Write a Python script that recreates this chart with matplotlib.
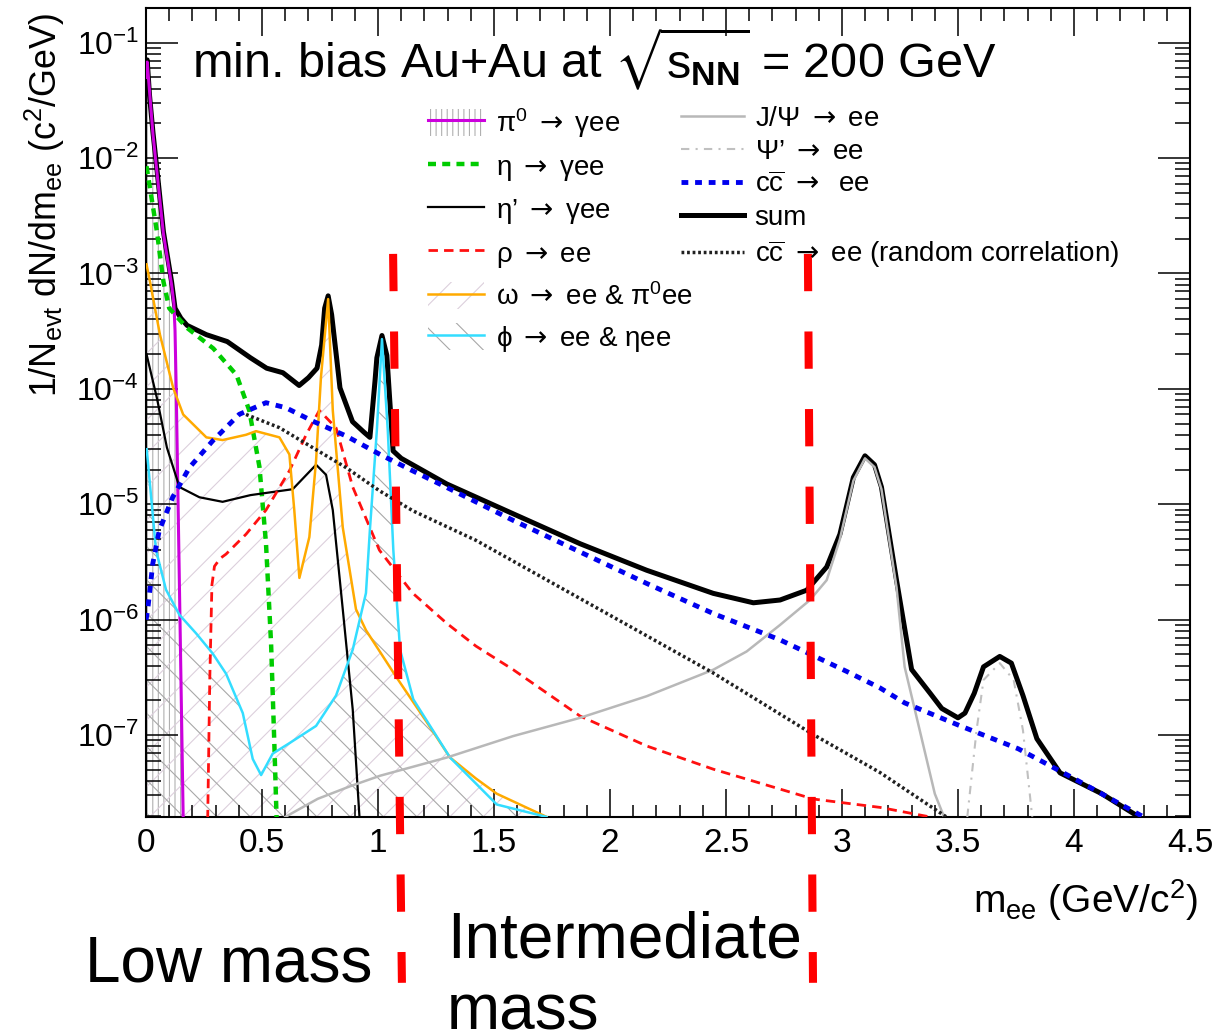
import matplotlib
matplotlib.use('Agg')
import matplotlib.pyplot as plt
from matplotlib.transforms import blended_transform_factory

plt.rcParams['font.family'] = ['Liberation Sans', 'DejaVu Sans']
plt.rcParams['mathtext.fontset'] = 'custom'
plt.rcParams['mathtext.rm'] = 'Liberation Sans'
plt.rcParams['mathtext.it'] = 'Liberation Sans:italic'
plt.rcParams['mathtext.bf'] = 'Liberation Sans:bold'
plt.rcParams['mathtext.sf'] = 'DejaVu Sans'
plt.rcParams['mathtext.default'] = 'regular'
plt.rcParams['mathtext.fallback'] = 'stixsans'
plt.rcParams['hatch.linewidth'] = 0.8

# ---- data (m_ee in GeV/c^2, yield in c^2/GeV) ----
sum_x = [0.0, 0.005, 0.015, 0.03, 0.05, 0.075, 0.11, 0.125, 0.15, 0.177, 0.26, 0.35, 0.45, 0.52,
         0.59, 0.66, 0.70, 0.737, 0.757, 0.77, 0.785, 0.80, 0.823, 0.836, 0.89, 0.94, 0.965, 0.987,
         0.995, 1.017, 1.038, 1.05, 1.065, 1.10, 1.296, 1.583, 1.871, 2.158, 2.445, 2.618, 2.733,
         2.848, 2.934, 2.991, 3.049, 3.099, 3.14, 3.17, 3.235, 3.30, 3.38, 3.43, 3.50, 3.53, 3.57,
         3.61, 3.68, 3.73, 3.78, 3.84, 3.94, 4.12, 4.28, 4.35]
sum_y = [5.0e-2, 7.1e-2, 3.5e-2, 1.66e-2, 7.0e-3, 2.3e-3, 8.5e-4, 5.0e-4, 4.1e-4, 3.55e-4, 2.95e-4,
         2.57e-4, 1.86e-4, 1.51e-4, 1.38e-4, 1.07e-4, 1.25e-4, 1.51e-4, 2.4e-4, 5.0e-4, 6.4e-4,
         4.4e-4, 1.74e-4, 1.02e-4, 5.2e-5, 4.2e-5, 3.8e-5, 1.17e-4, 1.86e-4, 2.9e-4, 1.95e-4,
         8.3e-5, 2.9e-5, 2.5e-5, 1.50e-5, 8.26e-6, 4.55e-6, 2.68e-6, 1.69e-6, 1.40e-6, 1.48e-6,
         1.80e-6, 2.86e-6, 5.5e-6, 1.71e-5, 2.63e-5, 2.2e-5, 1.41e-5, 2.2e-6, 3.7e-7, 2.3e-7,
         1.7e-7, 1.41e-7, 1.55e-7, 2.3e-7, 3.9e-7, 4.8e-7, 4.2e-7, 2.2e-7, 9.3e-8, 4.7e-8, 3.1e-8,
         1.95e-8, 1.0e-8]

pi0_x = [0.0, 0.005, 0.03, 0.075, 0.11, 0.12, 0.125, 0.13, 0.146, 0.16, 0.162]
pi0_y = [5.0e-2, 6.8e-2, 1.6e-2, 2.2e-3, 8.0e-4, 5.5e-4, 3.2e-4, 1.0e-4, 1.1e-6, 2.0e-8, 1.0e-8]

eta_x = [0.002, 0.047, 0.075, 0.10, 0.175, 0.29, 0.39, 0.445, 0.489, 0.517, 0.539, 0.553, 0.567]
eta_y = [8.5e-3, 2.3e-3, 8.5e-4, 5.0e-4, 3.4e-4, 2.24e-4, 1.32e-4, 6.5e-5, 2.1e-5, 4.6e-6, 6.2e-7,
         8.5e-8, 1.0e-8]

etap_x = [0.002, 0.047, 0.09, 0.144, 0.23, 0.33, 0.45, 0.632, 0.733, 0.776, 0.805, 0.848, 0.891,
          0.92, 0.925]
etap_y = [2.0e-4, 8.3e-5, 3.1e-5, 1.41e-5, 1.15e-5, 1.05e-5, 1.2e-5, 1.35e-5, 2.2e-5, 1.8e-5,
          8.9e-6, 1.23e-6, 1.66e-7, 1.95e-8, 1.0e-8]

rho_x = [0.262, 0.266, 0.275, 0.284, 0.295, 0.32, 0.345, 0.431, 0.517, 0.618, 0.69, 0.747, 0.819,
         0.891, 1.006, 1.149, 1.296, 1.422, 1.583, 1.871, 2.158, 2.445, 2.733, 2.876, 3.164, 3.38]
rho_y = [1.0e-8, 2.0e-8, 3.2e-7, 2.0e-6, 2.9e-6, 3.4e-6, 3.7e-6, 5.5e-6, 8.9e-6, 1.95e-5, 4.0e-5,
         6.5e-5, 4.6e-5, 1.41e-5, 4.0e-6, 1.7e-6, 9.3e-7, 5.9e-7, 3.68e-7, 1.46e-7, 8.04e-8,
         5.06e-8, 3.40e-8, 2.79e-8, 2.36e-8, 1.95e-8]

omega_x = [0.002, 0.017, 0.06, 0.117, 0.16, 0.26, 0.33, 0.431, 0.474, 0.575, 0.618, 0.639, 0.661,
           0.704, 0.733, 0.754, 0.785, 0.805, 0.848, 0.905, 0.948, 1.078, 1.221, 1.31, 1.422, 1.512,
           1.727, 1.75]
omega_y = [1.2e-3, 8.5e-4, 2.95e-4, 1.02e-4, 6.0e-5, 3.8e-5, 3.6e-5, 4.0e-5, 4.3e-5, 3.8e-5, 2.7e-5,
           8.9e-6, 2.3e-6, 5.2e-6, 2.4e-5, 1.26e-4, 6.0e-4, 6.5e-5, 6.3e-6, 1.23e-6, 8.1e-7, 3.2e-7,
           1.2e-7, 6.4e-8, 4.2e-8, 3.1e-8, 1.95e-8, 1.0e-8]

phi_x = [0.003, 0.043, 0.086, 0.144, 0.216, 0.287, 0.345, 0.417, 0.46, 0.496, 0.546, 0.618, 0.733,
         0.819, 0.891, 0.948, 0.965, 0.995, 1.017, 1.042, 1.066, 1.095, 1.152, 1.31, 1.512, 1.727, 1.75]
phi_y = [3.0e-5, 4.0e-6, 1.82e-6, 1.1e-6, 7.6e-7, 5.1e-7, 3.4e-7, 1.55e-7, 6.2e-8, 4.5e-8, 6.9e-8,
         8.5e-8, 1.2e-7, 2.2e-7, 5.5e-7, 1.7e-6, 6.0e-6, 4.4e-5, 2.7e-4, 4.4e-5, 4.0e-6, 5.5e-7,
         2.04e-7, 6.4e-8, 2.5e-8, 1.95e-8, 1.0e-8]

jpsi_x = [0.60, 0.74, 0.88, 1.009, 1.296, 1.583, 1.871, 2.158, 2.445, 2.589, 2.733, 2.862, 2.934,
          2.991, 3.049, 3.099, 3.14, 3.17, 3.235, 3.27, 3.40, 3.44]
jpsi_y = [1.95e-8, 2.8e-8, 3.6e-8, 4.44e-8, 6.38e-8, 9.8e-8, 1.41e-7, 2.17e-7, 3.68e-7, 5.3e-7,
          9.0e-7, 1.48e-6, 2.2e-6, 5.0e-6, 1.6e-5, 2.5e-5, 2.1e-5, 1.35e-5, 1.9e-6, 3.9e-7, 3.1e-8,
          1.95e-8]

psip_x = [3.54, 3.58, 3.61, 3.68, 3.74, 3.78, 3.82]
psip_y = [1.95e-8, 1.1e-7, 3.0e-7, 4.2e-7, 3.0e-7, 1.1e-7, 1.95e-8]

ccbar_x = [0.0, 0.007, 0.029, 0.057, 0.115, 0.187, 0.287, 0.402, 0.517, 0.603, 0.718, 0.862, 1.006,
           1.149, 1.296, 1.583, 1.871, 2.158, 2.445, 2.733, 3.02, 3.164, 3.27, 3.51, 3.76, 4.0, 4.3]
ccbar_y = [1.0e-6, 1.21e-6, 3.05e-6, 5.93e-6, 1.15e-5, 2.08e-5, 3.54e-5, 6.02e-5, 7.59e-5, 6.86e-5,
           5.26e-5, 3.91e-5, 2.72e-5, 1.95e-5, 1.40e-5, 7.24e-6, 3.86e-6, 2.06e-6, 1.13e-6, 6.68e-7,
           3.56e-7, 2.56e-7, 1.9e-7, 1.2e-7, 7.6e-8, 4.2e-8, 1.95e-8]

rand_x = [0.431, 0.575, 0.718, 0.862, 1.006, 1.149, 1.422, 2.445, 2.876, 3.164, 3.45]
rand_y = [6.0e-5, 4.61e-5, 3.1e-5, 2.08e-5, 1.31e-5, 8.8e-6, 4.87e-6, 3.45e-7, 1.01e-7, 4.73e-8,
          1.95e-8]

# mass region boundaries (top, bottom of the drawn line)
low_edge = [1.065, 1.103]
int_edge = [2.853, 2.875]

xticks = [0, 0.5, 1, 1.5, 2, 2.5, 3, 3.5, 4, 4.5]
xtick_labels = ['0', '0.5', '1', '1.5', '2', '2.5', '3', '3.5', '4', '4.5']
ymin, ymax = 1.95e-8, 0.2
floor = 1e-9

# ---- figure ----
fig = plt.figure(figsize=(12.2, 10.34), dpi=100)
ax = fig.add_axes([0.1197, 0.2099, 0.8557, 0.7824])
ax.set_yscale('log')
ax.set_xlim(0, 4.5)
ax.set_ylim(ymin, ymax)

# hatched areas
h_pi0 = ax.fill_between(pi0_x, pi0_y, floor, facecolor='none', edgecolor='#b0b0b0',
                        hatch='|||', linewidth=0, zorder=1)
h_om = ax.fill_between(omega_x, omega_y, floor, facecolor='none', edgecolor='#dccfdc',
                       hatch='/', linewidth=0, zorder=1)
h_phi = ax.fill_between(phi_x, phi_y, floor, facecolor='none', edgecolor='#a8a8a8',
                        hatch='\\', linewidth=0, zorder=1)

# curves
l_sum, = ax.plot(sum_x, sum_y, color='black', lw=3.6, zorder=3, solid_joinstyle='round')
l_pi0, = ax.plot(pi0_x, pi0_y, color='#cc00dd', lw=2.2, zorder=4)
l_eta, = ax.plot(eta_x, eta_y, color='#00cc00', lw=3.2, dashes=(1.8, 1.4), zorder=4)
l_etap, = ax.plot(etap_x, etap_y, color='black', lw=1.6, zorder=4)
l_rho, = ax.plot(rho_x, rho_y, color='#ff1010', lw=2.0, dashes=(3.4, 2.2), zorder=4)
l_om, = ax.plot(omega_x, omega_y, color='#ffaa00', lw=1.8, zorder=4)
l_phi, = ax.plot(phi_x, phi_y, color='#33ddff', lw=1.8, zorder=4)
l_jpsi, = ax.plot(jpsi_x, jpsi_y, color='#b8b8b8', lw=1.8, zorder=4)
l_psip, = ax.plot(psip_x, psip_y, color='#c0c0c0', lw=1.5, dashes=(4, 3, 1, 3), zorder=4)
l_cc, = ax.plot(ccbar_x, ccbar_y, color='#0000ee', lw=3.5, dashes=(1.4, 1.4), zorder=5)
l_rand, = ax.plot(rand_x, rand_y, color='#202020', lw=2.5, dashes=(0.8, 0.8), zorder=4)

# axes styling (ROOT-like ticks inside on all sides)
ax.set_xticks(xticks, xtick_labels)
ax.set_xticks([i / 10 for i in range(46)], minor=True)
for s in ax.spines.values():
    s.set_linewidth(1.5)
ax.tick_params(which='both', direction='in', top=True, right=True, width=1.1)
ax.tick_params(axis='x', which='major', length=20, labelsize=24, pad=8)
ax.tick_params(axis='x', which='minor', length=9)
ax.tick_params(axis='y', which='major', length=23, labelsize=23, pad=5)
ax.tick_params(axis='y', which='minor', length=11)

ax.text(-0.097, 0.756, r'1/N$_{\mathrm{evt}}$ dN/dm$_{\mathrm{ee}}$ (c$^{2}$/GeV)', rotation=90,
        ha='center', va='center', fontsize=25.8, transform=ax.transAxes)
ax.text(1.008, -0.103, r'm$_{\mathrm{ee}}$ (GeV/c$^{2}$)', ha='right', va='center', fontsize=28,
        transform=ax.transAxes)
ax.text(0.044, 0.913, r'min. bias Au+Au at $\sqrt{s_{\mathbf{NN}}}$ = 200 GeV', fontsize=35,
        va='baseline', ha='left', transform=ax.transAxes)

# legends
arrow = r'$\mathsf{\rightarrow}$'
fig.legend([(h_pi0, l_pi0), l_eta, l_etap, l_rho, (h_om, l_om), (h_phi, l_phi)],
           ['π$^{0}$ %s γee' % arrow, 'η %s γee' % arrow, 'η’ %s γee' % arrow, 'ρ %s ee' % arrow,
            'ω %s ee & π$^{0}$ee' % arrow, 'ϕ %s ee & ηee' % arrow],
           loc='upper left', bbox_to_anchor=(0.3508, 0.8975), frameon=False,
           fontsize=20, handlelength=2.0, handleheight=1.1, handletextpad=0.45,
           labelspacing=0.45, borderpad=0, borderaxespad=0)
fig.legend([l_jpsi, l_psip, l_cc, l_sum, l_rand],
           ['J/Ψ %s ee' % arrow, 'Ψ’ %s ee' % arrow, r'c$\overline{\mathrm{c}}$ %s  ee' % arrow,
            'sum', r'c$\overline{\mathrm{c}}$ %s ee (random correlation)' % arrow],
           loc='upper left', bbox_to_anchor=(0.5582, 0.8975), frameon=False,
           fontsize=20, handlelength=2.25, handletextpad=0.4, labelspacing=0.25,
           borderpad=0, borderaxespad=0)

# mass region markers
trans = blended_transform_factory(ax.transData, ax.transAxes)
for edge in (low_edge, int_edge):
    ax.plot(edge, [0.696, -0.205], transform=trans, clip_on=False, color='red', lw=5.8,
            dashes=(4.63, 5.0), solid_capstyle='butt', dash_capstyle='butt', zorder=6)

fig.text(85 / 1220, 1 - 965 / 1034, 'Low mass', fontsize=46, ha='left', va='center')
fig.text(447 / 1220, 1 - 940 / 1034, 'Intermediate', fontsize=46, ha='left', va='center')
fig.text(447 / 1220, 1 - 1030 / 1034, 'mass', fontsize=46, ha='left', va='baseline')

fig.savefig('out.png', dpi=100)
